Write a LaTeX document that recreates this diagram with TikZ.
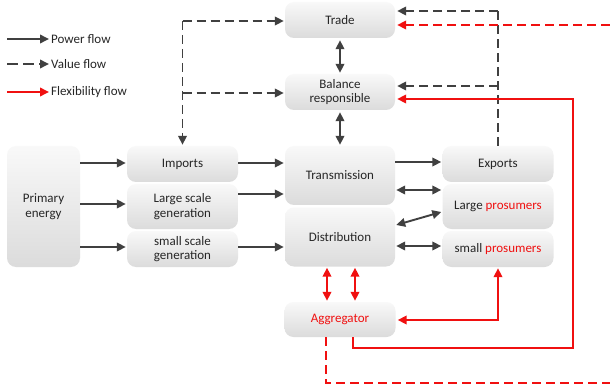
\documentclass[tikz,border=0pt]{standalone}
\usepackage{fontspec}
\setmainfont{Carlito}
\usetikzlibrary{arrows.meta,calc}
\definecolor{txt}{HTML}{262626}
\definecolor{ln}{HTML}{404040}
\definecolor{fred}{HTML}{F01010}
\begin{document}
\begin{tikzpicture}[x=1pt,y=-1pt,
  box/.style={rounded corners=9pt,top color=gray!5,bottom color=gray!28,draw=none,
    text=txt,font=\fontsize{13}{14.5}\selectfont,align=center,inner sep=0pt},
  pf/.style={draw=ln,line width=1.9pt,-{Triangle[length=9pt,width=8.5pt]}},
  pfb/.style={draw=ln,line width=1.9pt,{Triangle[length=9pt,width=8.5pt]}-{Triangle[length=9pt,width=8.5pt]}},
  vf/.style={draw=ln,line width=1.9pt,dash pattern=on 9pt off 5pt,-{Triangle[length=9pt,width=8.5pt]}},
  vfl/.style={draw=ln,line width=1.9pt,dash pattern=on 9pt off 5pt},
  ff/.style={draw=fred,line width=1.9pt,-{Triangle[length=9pt,width=8.5pt]}},
  ffb/.style={draw=fred,line width=1.9pt,{Triangle[length=9pt,width=8.5pt]}-{Triangle[length=9pt,width=8.5pt]}},
  ffd/.style={draw=fred,line width=1.9pt,dash pattern=on 9pt off 5pt,-{Triangle[length=9pt,width=8.5pt]}},
  lgd/.style={text=txt,font=\fontsize{13}{14.5}\selectfont,anchor=west,inner sep=0pt}
]
\clip (0,0) rectangle (610,390);
\fill[white] (0,0) rectangle (610,390);

% boxes
\node[box,minimum width=110pt,minimum height=36pt] (trade) at (340,20) {Trade};
\node[box,minimum width=110pt,minimum height=36pt] (bal) at (340,92) {Balance\\responsible};
\node[box,minimum width=110pt,minimum height=59pt] (trans) at (340,175.5) {Transmission};
\node[box,minimum width=110pt,minimum height=59pt] (dist) at (340,237) {Distribution};
\node[box,minimum width=111pt,minimum height=36pt] (imp) at (182.5,164) {Imports};
\node[box,minimum width=111pt,minimum height=45pt] (lsg) at (182.5,206.5) {Large scale\\generation};
\node[box,minimum width=111pt,minimum height=36pt] (ssg) at (182.5,249) {small scale\\generation};
\node[box,minimum width=73pt,minimum height=121pt] (pe) at (43.5,206.5) {Primary\\energy};
\node[box,minimum width=111pt,minimum height=36pt] (exp) at (498,164) {Exports};
\node[box,minimum width=111pt,minimum height=45pt] (lp) at (498,206.5) {Large \textcolor{fred}{prosumers}};
\node[box,minimum width=111pt,minimum height=36pt] (sp) at (498,249) {small \textcolor{fred}{prosumers}};
\node[box,minimum width=111pt,minimum height=35pt,text=fred] (agg) at (340,319.5) {Aggregator};

% legend
\coordinate (l1a) at (7,39); \coordinate (l1b) at (49,39);
\coordinate (l2a) at (7,64); \coordinate (l2b) at (49,64);
\coordinate (l3a) at (7,92); \coordinate (l3b) at (49,92);
\draw[pf] (l1a) -- (l1b);
\draw[vf,dash pattern=on 11pt off 5pt] (l2a) -- (l2b);
\draw[ff] (l3a) -- (l3b);
\node[lgd] (t1) at (51,39.5) {Power flow};
\node[lgd] (t2) at (51,64.5) {Value flow};
\node[lgd] (t3) at (51,92.5) {Flexibility flow};

% power flows
\coordinate (p1) at ($(imp.west)+(0,-1)$);
\coordinate (p2) at ($(lsg.west)+(0,-2.5)$);
\coordinate (p3) at ($(ssg.west)+(0,-2)$);
\draw[pf] (p1 -| pe.east) -- ($(p1)+(-1,0)$);
\draw[pf] (p2 -| pe.east) -- ($(p2)+(-1,0)$);
\draw[pf] (p3 -| pe.east) -- ($(p3)+(-1,0)$);
\draw[pf] (p1 -| imp.east) -- ($(p1 -| trans.west)+(-1,0)$);
\coordinate (lsgo) at ($(lsg.east)+(0,-12.5)$);
\draw[pf] (lsgo) -- ($(lsgo -| trans.west)+(-1,0)$);
\draw[pf] (p3 -| ssg.east) -- ($(p3 -| dist.west)+(-1,0)$);
\coordinate (expi) at ($(exp.west)+(0,-2)$);
\draw[pf] (expi -| trans.east) -- ($(expi)+(-1,0)$);
\coordinate (lpi) at ($(lp.west)+(0,-16.5)$);
\draw[pfb,shorten <=1pt,shorten >=1pt] (lpi -| trans.east) -- (lpi);
\draw[pfb] ($(dist.east)+(1,-12)$) -- ($(lp.west)+(-1,5.5)$);
\coordinate (spi) at ($(sp.west)+(0,-3)$);
\draw[pfb,shorten <=1pt,shorten >=1pt] (spi -| dist.east) -- (spi);
\draw[pfb,shorten <=2pt,shorten >=1pt] (trade.south) -- (bal.north);
\draw[pfb,shorten <=2pt,shorten >=1pt] (bal.south) -- (trans.north);

% value flows (left)
\coordinate (vl1) at ($(trade.west -| imp.north)+(0,1)$);
\coordinate (vl2) at ($(bal.west)+(-1,1)$);
\draw[vf] (vl1) -- ($(vl1 -| trade.west)+(-1,0)$);
\draw[vf] (vl2 -| imp.north) -- (vl2);
\draw[vf] (vl1) -- ($(imp.north)+(0,-1)$);

% value flows (right)
\coordinate (vr1) at ($(trade.east)+(2,-9)$);
\coordinate (vr2) at ($(bal.east)+(2,-6)$);
\draw[vfl] (exp.north) -- (vr1 -| exp.north);
\draw[vf] (vr1 -| exp.north) -- (vr1);
\draw[vf] (vr2 -| exp.north) -- (vr2);

% flexibility flows
\draw[ffb,shorten <=1pt,shorten >=1pt] ($(dist.south)+(-13,0)$) -- ($(agg.north)+(-13,0)$);
\draw[ffb,shorten <=1pt,shorten >=1pt] ($(dist.south)+(15,0)$) -- ($(agg.north)+(15,0)$);
\draw[ffb,shorten <=1pt] (sp.south) |- ($(agg.east)+(2,0.5)$);
\coordinate (fb) at ($(bal.east)+(2,7)$);
\coordinate (fr) at (573,348);
\draw[ff] ($(agg.south)+(13,0)$) |- (fr) |- (fb);
\coordinate (fd) at (616,383);
\coordinate (ft) at ($(trade.east)+(2,5)$);
\draw[ffd] ($(agg.south)+(-14,0)$) |- (fd) |- (ft);
\end{tikzpicture}
\end{document}
